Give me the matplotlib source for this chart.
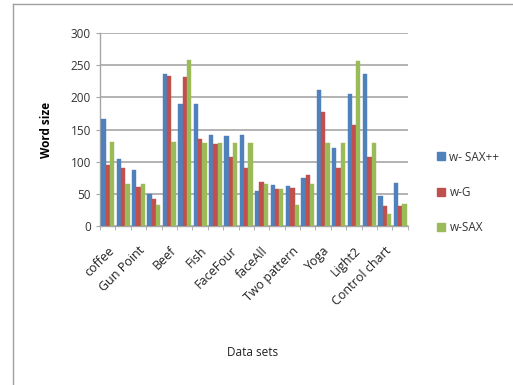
import numpy as np
import matplotlib
matplotlib.use("Agg")
import matplotlib.pyplot as plt
from matplotlib.lines import Line2D

# Word size per data set configuration (20 groups, every other one labelled)
labels = ["coffee", "Gun Point", "Beef", "Fish", "FaceFour",
          "faceAll", "Two pattern", "Yoga", "Light2", "Control chart"]
series_names = ["w- SAX++", "w-G", "w-SAX"]
w_sax_pp = [167, 104, 87, 50, 237, 190, 189, 142, 140, 141,
            55, 63, 62, 74, 211, 121, 206, 236, 46, 67]
w_g = [95, 90, 60, 42, 234, 232, 135, 127, 108, 90,
       69, 57, 59, 79, 178, 90, 157, 108, 31, 31]
w_sax = [130, 65, 65, 33, 130, 258, 129, 129, 129, 129,
         65, 57, 33, 65, 129, 129, 257, 129, 18, 34]
colors = ["#4F81BD", "#C0504D", "#9BBB59"]

plt.rcParams["font.family"] = ["Open Sans", "DejaVu Sans"]

fig = plt.figure(figsize=(5.13, 3.85), dpi=100)
ax = fig.add_axes([0.195, 0.413, 0.6, 0.501])

n = len(w_sax_pp)
x = np.arange(n)
w = 0.28
for i, (vals, c) in enumerate(zip([w_sax_pp, w_g, w_sax], colors)):
    ax.bar(x + (i - 1) * w, vals, width=w, color=c, label=series_names[i],
           edgecolor=c, linewidth=0.3, zorder=3)

ax.set_xlim(-0.5, n - 0.5)
ax.set_ylim(0, 300)
ax.set_yticks(range(0, 301, 50))
ax.yaxis.grid(True, color="#A6A6A6", linewidth=1.2, zorder=0)
ax.tick_params(axis="y", labelsize=8.5, colors="#333333", length=3, color="#A6A6A6")
for s in ["top", "right"]:
    ax.spines[s].set_visible(False)
for s in ["left", "bottom"]:
    ax.spines[s].set_color("#A6A6A6")
    ax.spines[s].set_linewidth(1.0)

ax.set_xticks(np.arange(0, n, 2))
ax.set_xticklabels(labels, rotation=45, ha="right", rotation_mode="anchor",
                   fontsize=9, color="#222222")
ax.set_xticks(np.arange(-0.5, n, 1), minor=True)
ax.tick_params(axis="x", which="major", length=0, pad=13)
ax.tick_params(axis="x", which="minor", length=3, color="#A6A6A6")

ax.set_ylabel("Word size", fontsize=8.5, fontweight="bold", labelpad=13)
fig.text(0.493, 0.085, "Data sets", ha="center", va="center", fontsize=8.5,
         color="#222222")

handles = [Line2D([0], [0], marker="s", linestyle="none", markersize=6,
                  markerfacecolor=c, markeredgecolor=c) for c in colors]
fig.legend(handles, series_names, loc="center left",
           bbox_to_anchor=(0.83, 0.5), frameon=False, fontsize=8.5,
           handlelength=0.8, handletextpad=0.3, labelspacing=1.9,
           labelcolor="#333333")

# outer chart frame
fig.add_artist(Line2D([13 / 513, 13 / 513], [0, 1 - 4 / 385],
                      transform=fig.transFigure, color="#A0A0A0", linewidth=1))
fig.add_artist(Line2D([13 / 513, 1], [1 - 4 / 385, 1 - 4 / 385],
                      transform=fig.transFigure, color="#A0A0A0", linewidth=1))

fig.savefig("out.png", dpi=100)
